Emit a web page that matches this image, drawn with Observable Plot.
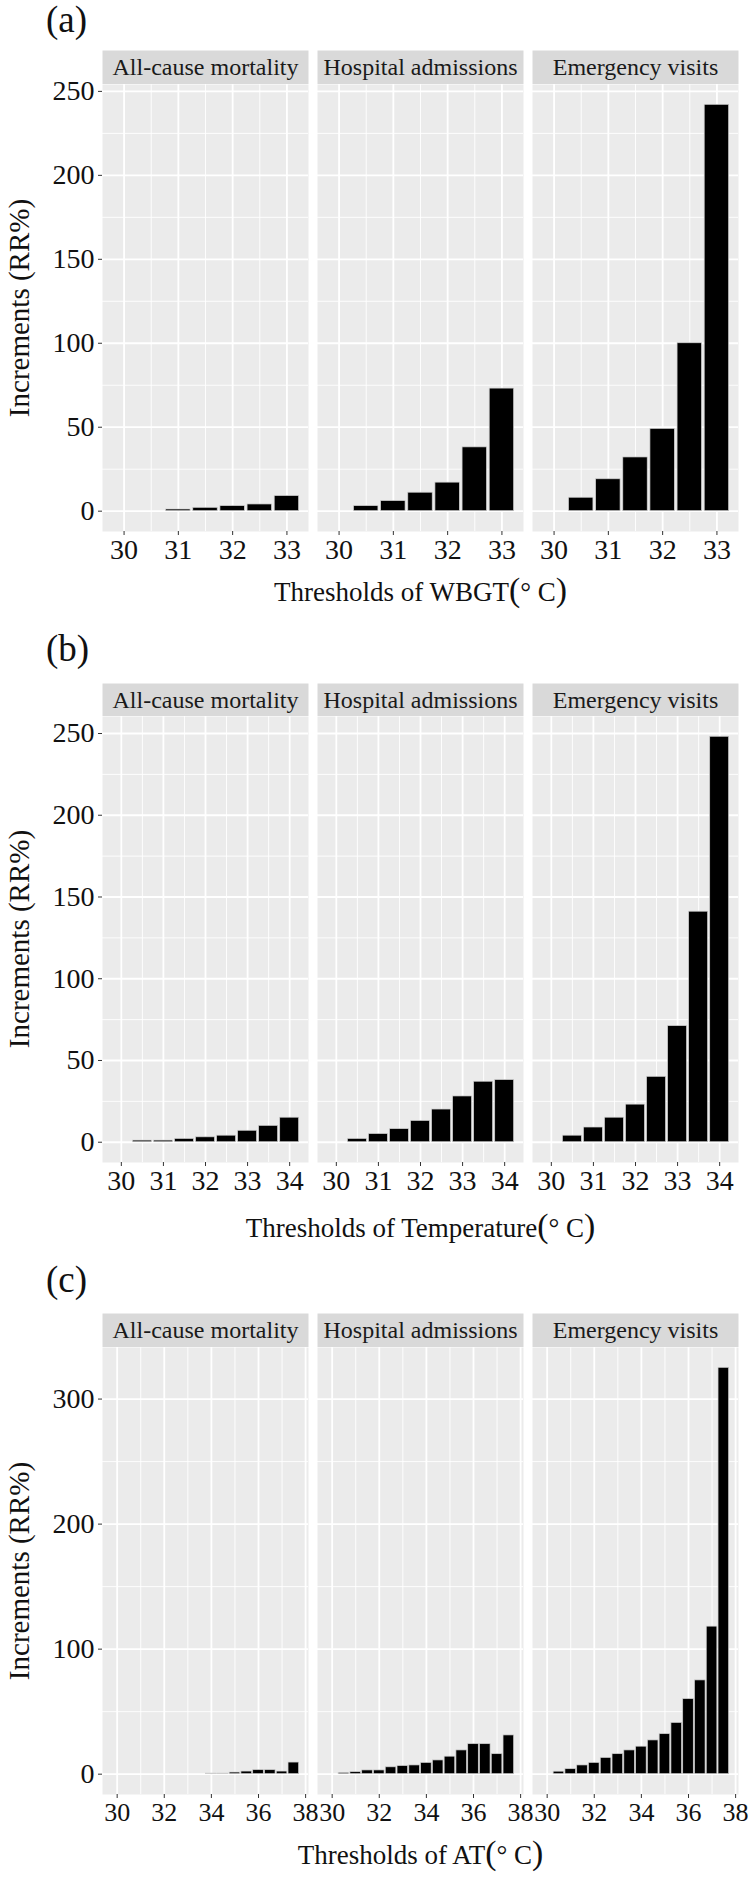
<!DOCTYPE html>
<html><head><meta charset="utf-8">
<script src="https://cdn.jsdelivr.net/npm/d3@7"></script>
<script src="https://cdn.jsdelivr.net/npm/@observablehq/plot@0.6"></script>
<style>
body{margin:0;background:#fff;}
#root{position:relative;width:750px;height:1880px;overflow:hidden;color:#111;}
.abs, .abs svg text, #root{font-family:'Liberation Serif','Times New Roman','Times','Nimbus Roman','Nimbus Roman No9 L','FreeSerif','Tinos','Noto Serif','DejaVu Serif',serif;}
.abs{position:absolute;white-space:nowrap;line-height:1;}
.abs svg{display:block;}
.p{font-size:1.25em;line-height:0;}
</style></head><body><div id="root"></div>
<script>
// ---- data ----
const panels = ["All-cause mortality", "Hospital admissions", "Emergency visits"];

const thresholdsA = [30, 30.5, 31, 31.5, 32, 32.5, 33];
const mortalityA  = [null, null, 1, 2, 3, 4, 9];
const hospitalA   = [null, 3, 6, 11, 17, 38, 73];
const emergencyA  = [null, 8, 19, 32, 49, 100, 242];

const thresholdsB = [30, 30.5, 31, 31.5, 32, 32.5, 33, 33.5, 34];
const mortalityB  = [null, 1, 1, 2, 3, 4, 7, 10, 15];
const hospitalB   = [null, 2, 5, 8, 13, 20, 28, 37, 38];
const emergencyB  = [null, 4, 9, 15, 23, 40, 71, 141, 248];

const thresholdsC = [30, 30.5, 31, 31.5, 32, 32.5, 33, 33.5, 34, 34.5, 35, 35.5, 36, 36.5, 37, 37.5];
const mortalityC  = [null, null, null, null, null, null, null, null, 0.5, 0.5, 1.3, 2.1, 3.2, 3.2, 2.1, 9.3];
const hospitalC   = [null, 1, 1.6, 3, 3, 5.5, 6.5, 7, 9, 11, 14, 19, 24, 24, 16, 31];
const emergencyC  = [null, 2, 4, 7, 9, 13, 16, 19, 22, 27, 32, 41, 60, 75, 118, 325];

const yTicksAB = [0, 50, 100, 150, 200, 250];
const yMinorAB = [25, 75, 125, 175, 225];
const yTicksC  = [0, 100, 200, 300];
const yMinorC  = [50, 150, 250];
const xTicksA  = [30, 31, 32, 33];
const xMinorA  = [30.5, 31.5, 32.5];
const xTicksB  = [30, 31, 32, 33, 34];
const xMinorB  = [30.5, 31.5, 32.5, 33.5];
const xTicksC  = [30, 32, 34, 36, 38];
const xMinorC  = [31, 33, 35, 37];

const tags = ["(a)", "(b)", "(c)"];
const variables = ["WBGT", "Temperature", "AT"];

// ---- layout ----
const FONT = "'Liberation Serif','Times New Roman','Times','Nimbus Roman','Nimbus Roman No9 L','FreeSerif','Tinos','Noto Serif','DejaVu Serif',serif";
const rows = [
  {tag: tags[0], variable: variables[0], thr: thresholdsA, series: [mortalityA, hospitalA, emergencyA],
   yTicks: yTicksAB, yMinor: yMinorAB, xTicks: xTicksA, xMinor: xMinorA,
   stripTop: 50, panelTop: 84, panelBottom: 531, titleBaseline: 602, tagBaseline: 31, xFont: 28},
  {tag: tags[1], variable: variables[1], thr: thresholdsB, series: [mortalityB, hospitalB, emergencyB],
   yTicks: yTicksAB, yMinor: yMinorAB, xTicks: xTicksB, xMinor: xMinorB,
   stripTop: 683, panelTop: 716, panelBottom: 1162, titleBaseline: 1238, tagBaseline: 661, xFont: 28},
  {tag: tags[2], variable: variables[2], thr: thresholdsC, series: [mortalityC, hospitalC, emergencyC],
   yTicks: yTicksC, yMinor: yMinorC, xTicks: xTicksC, xMinor: xMinorC,
   stripTop: 1313, panelTop: 1347, panelBottom: 1794, titleBaseline: 1865, tagBaseline: 1292, xFont: 26}
];

const root = document.getElementById("root");
const ML = 102, MR = 11, W = 750, MB = 44;
const fxOpts = {domain: panels, paddingInner: 0.04, paddingOuter: 0, axis: null, label: null};
const barWidth = 0.45;

function place(el, left, top) {
  const d = document.createElement("div");
  d.className = "abs";
  d.style.left = left + "px";
  d.style.top = top + "px";
  d.appendChild(el);
  root.appendChild(d);
  return d;
}
function textDiv(html, fs) {
  const d = document.createElement("div");
  d.className = "abs";
  d.style.fontSize = fs + "px";
  d.innerHTML = html;
  root.appendChild(d);
  return d;
}

for (const r of rows) {
  const table = [];
  panels.forEach((p, i) => r.thr.forEach((t, j) => {
    const v = r.series[i][j];
    if (v != null) table.push({panel: p, x: t, value: v});
  }));
  const xlo = d3.min(r.thr) - barWidth / 2, xhi = d3.max(r.thr) + barWidth / 2;
  const xpad = (xhi - xlo) * 0.05;
  const ymax = d3.max(table, d => d.value);
  const panelH = r.panelBottom - r.panelTop;

  // strip
  const strip = Plot.plot({
    width: W, height: r.panelTop - r.stripTop,
    marginTop: 0, marginBottom: 0, marginLeft: ML, marginRight: MR,
    style: {fontFamily: FONT, background: "transparent"},
    fx: fxOpts,
    marks: [
      Plot.frame({fill: "#D9D9D9", stroke: "none"}),
      Plot.text(panels, {fx: d => d, text: d => d, frameAnchor: "middle", fontSize: 24, fill: "#1a1a1a", fontFamily: FONT})
    ]
  });
  place(strip, 0, r.stripTop);

  // main panels
  const chart = Plot.plot({
    width: W, height: panelH + MB,
    marginTop: 0, marginBottom: MB, marginLeft: ML, marginRight: MR,
    style: {fontFamily: FONT, background: "transparent", overflow: "visible"},
    fx: fxOpts,
    x: {domain: [xlo - xpad, xhi + xpad], label: null},
    y: {domain: [-0.05 * ymax, 1.05 * ymax], label: null},
    marks: [
      Plot.frame({fill: "#EBEBEB", stroke: "none"}),
      Plot.gridX(r.xMinor, {stroke: "white", strokeOpacity: 1, strokeWidth: 0.9}),
      Plot.gridY(r.yMinor, {stroke: "white", strokeOpacity: 1, strokeWidth: 0.9}),
      Plot.gridX(r.xTicks, {stroke: "white", strokeOpacity: 1, strokeWidth: 1.8}),
      Plot.gridY(r.yTicks, {stroke: "white", strokeOpacity: 1, strokeWidth: 1.8}),
      Plot.rect(table, {
        fx: "panel",
        x1: d => d.x - barWidth / 2, x2: d => d.x + barWidth / 2,
        y1: 0, y2: "value",
        fill: "black", stroke: "#cfcfcf", strokeWidth: 0.7
      }),
      Plot.axisY(r.yTicks, {tickSize: 4, tickPadding: 4, fontSize: 28, stroke: "#333", fill: "#111",
        tickFormat: d => `${d}`, label: null}),
      Plot.axisX(r.xTicks, {tickSize: 4, tickPadding: 4, fontSize: r.xFont, stroke: "#333", fill: "#111",
        tickFormat: d => `${d}`, label: null})
    ]
  });
  place(chart, 0, r.panelTop);

  // panel tag
  const tfs = 37;
  const tag = textDiv(r.tag, tfs);
  tag.style.left = "46px";
  tag.style.top = Math.max(1, r.tagBaseline - 0.8375 * tfs) + "px";

  // x title
  const xfs = 27;
  const xt = textDiv(`Thresholds of ${r.variable}<span class="p">(</span>° C<span class="p">)</span>`, xfs);
  xt.style.left = ML + "px";
  xt.style.width = (W - ML - MR) + "px";
  xt.style.textAlign = "center";
  xt.style.top = (r.titleBaseline - 0.8375 * xfs) + "px";

  // y title
  const yt = textDiv("Increments (RR%)", 29);
  yt.style.left = "19px";
  yt.style.top = ((r.panelTop + r.panelBottom) / 2) + "px";
  yt.style.transform = "translate(-50%,-50%) rotate(-90deg)";
}
</script></body></html>
